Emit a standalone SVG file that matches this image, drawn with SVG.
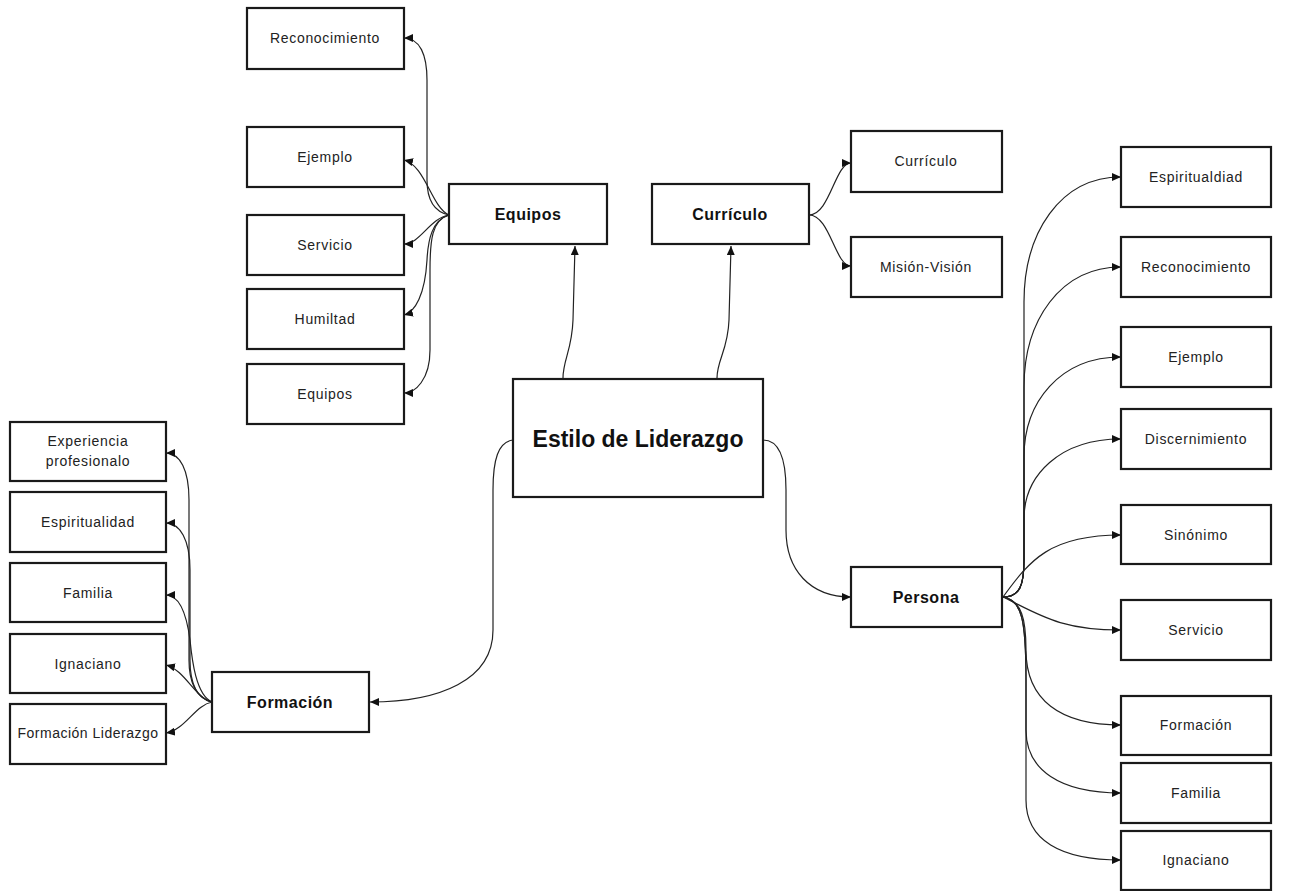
<svg xmlns="http://www.w3.org/2000/svg" width="1306" height="891" viewBox="0 0 1306 891">
<defs>
<marker id="ah" markerUnits="userSpaceOnUse" markerWidth="9" markerHeight="8" refX="9" refY="4" orient="auto">
<path d="M0,0 L9,4 L0,8 z" fill="#111"/>
</marker>
<style>
.box{fill:#fff;stroke:#1a1a1a;stroke-width:2.2}
.t{font-family:"Liberation Sans",Arial,sans-serif;font-size:14px;fill:#222;text-anchor:middle;letter-spacing:0.7px}
.b{font-family:"Liberation Sans",Arial,sans-serif;font-size:16px;font-weight:bold;fill:#111;text-anchor:middle;letter-spacing:0.5px}
.c{fill:none;stroke:#222;stroke-width:1.2;marker-end:url(#ah)}
</style>
</defs>
<rect width="1306" height="891" fill="#fff"/>
<g id="connectors">
<path class="c" d="M563,378 C563,360 572,350 573,320 L575,246"/>
<path class="c" d="M717,378 C717,360 728,350 729,320 L731,246"/>
<path class="c" d="M513,440 C498,442 493,460 493,490 L493,630 C493,680 440,702 370,702"/>
<path class="c" d="M763,440 C780,440 786,460 786,490 L786,530 C786,570 810,597 851,597"/>
<path class="c" d="M809,215 C830,215 835,163 851,163"/>
<path class="c" d="M809,215 C830,215 835,266 851,266"/>
<path class="c" d="M449,215 C435,212 427,200 427,180 L427,80 C427,55 420,38 404,38"/>
<path class="c" d="M449,215 C432,208 425,165 404,160"/>
<path class="c" d="M449,215 C430,218 420,244 404,244"/>
<path class="c" d="M449,215 C432,220 428,240 427,260 C425,295 415,312 404,315"/>
<path class="c" d="M449,215 C432,220 430,240 430,270 L430,350 C430,380 415,393 404,393"/>
<path class="c" d="M212,702 C195,698 189,680 189,660 L189,500 C189,470 180,453 166,453"/>
<path class="c" d="M212,702 C195,698 190,680 190,660 L190,570 C190,540 180,523 166,523"/>
<path class="c" d="M212,702 C196,695 192,660 190,640 C186,610 178,595 166,595"/>
<path class="c" d="M212,702 C195,698 185,670 166,665"/>
<path class="c" d="M212,702 C195,705 185,730 166,733"/>
<path class="c" d="M1003,597 C1020,597 1024,585 1024,560 L1024,302 C1024,233 1060,177 1121,177"/>
<path class="c" d="M1003,597 C1020,597 1024,585 1024,560 L1024,387 C1024,321 1060,267 1121,267"/>
<path class="c" d="M1003,597 C1020,597 1024,585 1024,560 L1024,457 C1024,402 1060,357 1121,357"/>
<path class="c" d="M1003,597 C1020,597 1024,585 1024,560 L1024,519 C1024,475 1060,439 1121,439"/>
<path class="c" d="M1003,597 C1030,560 1050,535 1121,535"/>
<path class="c" d="M1003,597 C1040,615 1060,630 1121,630"/>
<path class="c" d="M1003,597 C1022,600 1026,620 1026,650 C1026,700 1060,725 1121,725"/>
<path class="c" d="M1003,597 C1022,600 1026,620 1026,680 L1026,730 C1026,770 1060,793 1121,793"/>
<path class="c" d="M1003,597 C1022,600 1026,620 1026,680 L1026,800 C1026,840 1060,860 1121,860"/>
</g>
<g id="central"><rect class="box" x="513" y="379" width="250" height="118"/><text x="638" y="447" style="font-family:'Liberation Sans',Arial,sans-serif;font-size:23px;font-weight:bold;fill:#111;text-anchor:middle">Estilo de Liderazgo</text></g>
<g id="equipos"><rect class="box" x="449" y="184" width="158" height="60"/><text class="b" x="528" y="220">Equipos</text></g>
<g id="curriculo"><rect class="box" x="652" y="184" width="157" height="60"/><text class="b" x="730" y="220">Currículo</text></g>
<g id="persona"><rect class="box" x="851" y="567" width="151" height="60"/><text class="b" x="926" y="603">Persona</text></g>
<g id="formacion"><rect class="box" x="212" y="672" width="157" height="60"/><text class="b" x="290" y="708">Formación</text></g>
<g id="eq-reconocimiento"><rect class="box" x="247" y="8" width="157" height="61"/><text class="t" x="325" y="43">Reconocimiento</text></g>
<g id="eq-ejemplo"><rect class="box" x="247" y="127" width="157" height="60"/><text class="t" x="325" y="162">Ejemplo</text></g>
<g id="eq-servicio"><rect class="box" x="247" y="215" width="157" height="60"/><text class="t" x="325" y="250">Servicio</text></g>
<g id="eq-humiltad"><rect class="box" x="247" y="289" width="157" height="60"/><text class="t" x="325" y="324">Humiltad</text></g>
<g id="eq-equipos"><rect class="box" x="247" y="364" width="157" height="60"/><text class="t" x="325" y="399">Equipos</text></g>
<g id="cu-curriculo"><rect class="box" x="851" y="131" width="151" height="61"/><text class="t" x="926" y="166">Currículo</text></g>
<g id="cu-mision"><rect class="box" x="851" y="237" width="151" height="60"/><text class="t" x="926" y="272">Misión-Visión</text></g>
<g id="pe-espiritualdiad"><rect class="box" x="1121" y="147" width="150" height="60"/><text class="t" x="1196" y="182">Espiritualdiad</text></g>
<g id="pe-reconocimiento"><rect class="box" x="1121" y="237" width="150" height="60"/><text class="t" x="1196" y="272">Reconocimiento</text></g>
<g id="pe-ejemplo"><rect class="box" x="1121" y="327" width="150" height="60"/><text class="t" x="1196" y="362">Ejemplo</text></g>
<g id="pe-discernimiento"><rect class="box" x="1121" y="409" width="150" height="60"/><text class="t" x="1196" y="444">Discernimiento</text></g>
<g id="pe-sinonimo"><rect class="box" x="1121" y="505" width="150" height="59"/><text class="t" x="1196" y="540">Sinónimo</text></g>
<g id="pe-servicio"><rect class="box" x="1121" y="600" width="150" height="60"/><text class="t" x="1196" y="635">Servicio</text></g>
<g id="pe-formacion"><rect class="box" x="1121" y="696" width="150" height="59"/><text class="t" x="1196" y="730">Formación</text></g>
<g id="pe-familia"><rect class="box" x="1121" y="763" width="150" height="60"/><text class="t" x="1196" y="798">Familia</text></g>
<g id="pe-ignaciano"><rect class="box" x="1121" y="831" width="150" height="59"/><text class="t" x="1196" y="865">Ignaciano</text></g>
<g id="fo-experiencia"><rect class="box" x="10" y="422" width="156" height="59"/><text class="t" x="88" y="446">Experiencia</text><text class="t" x="88" y="466">profesionalo</text></g>
<g id="fo-espiritualidad"><rect class="box" x="10" y="492" width="156" height="60"/><text class="t" x="88" y="527">Espiritualidad</text></g>
<g id="fo-familia"><rect class="box" x="10" y="563" width="156" height="59"/><text class="t" x="88" y="598">Familia</text></g>
<g id="fo-ignaciano"><rect class="box" x="10" y="634" width="156" height="59"/><text class="t" x="88" y="669">Ignaciano</text></g>
<g id="fo-liderazgo"><rect class="box" x="10" y="704" width="156" height="60"/><text class="t" x="88" y="738" style="letter-spacing:0.5px">Formación Liderazgo</text></g>
</svg>
